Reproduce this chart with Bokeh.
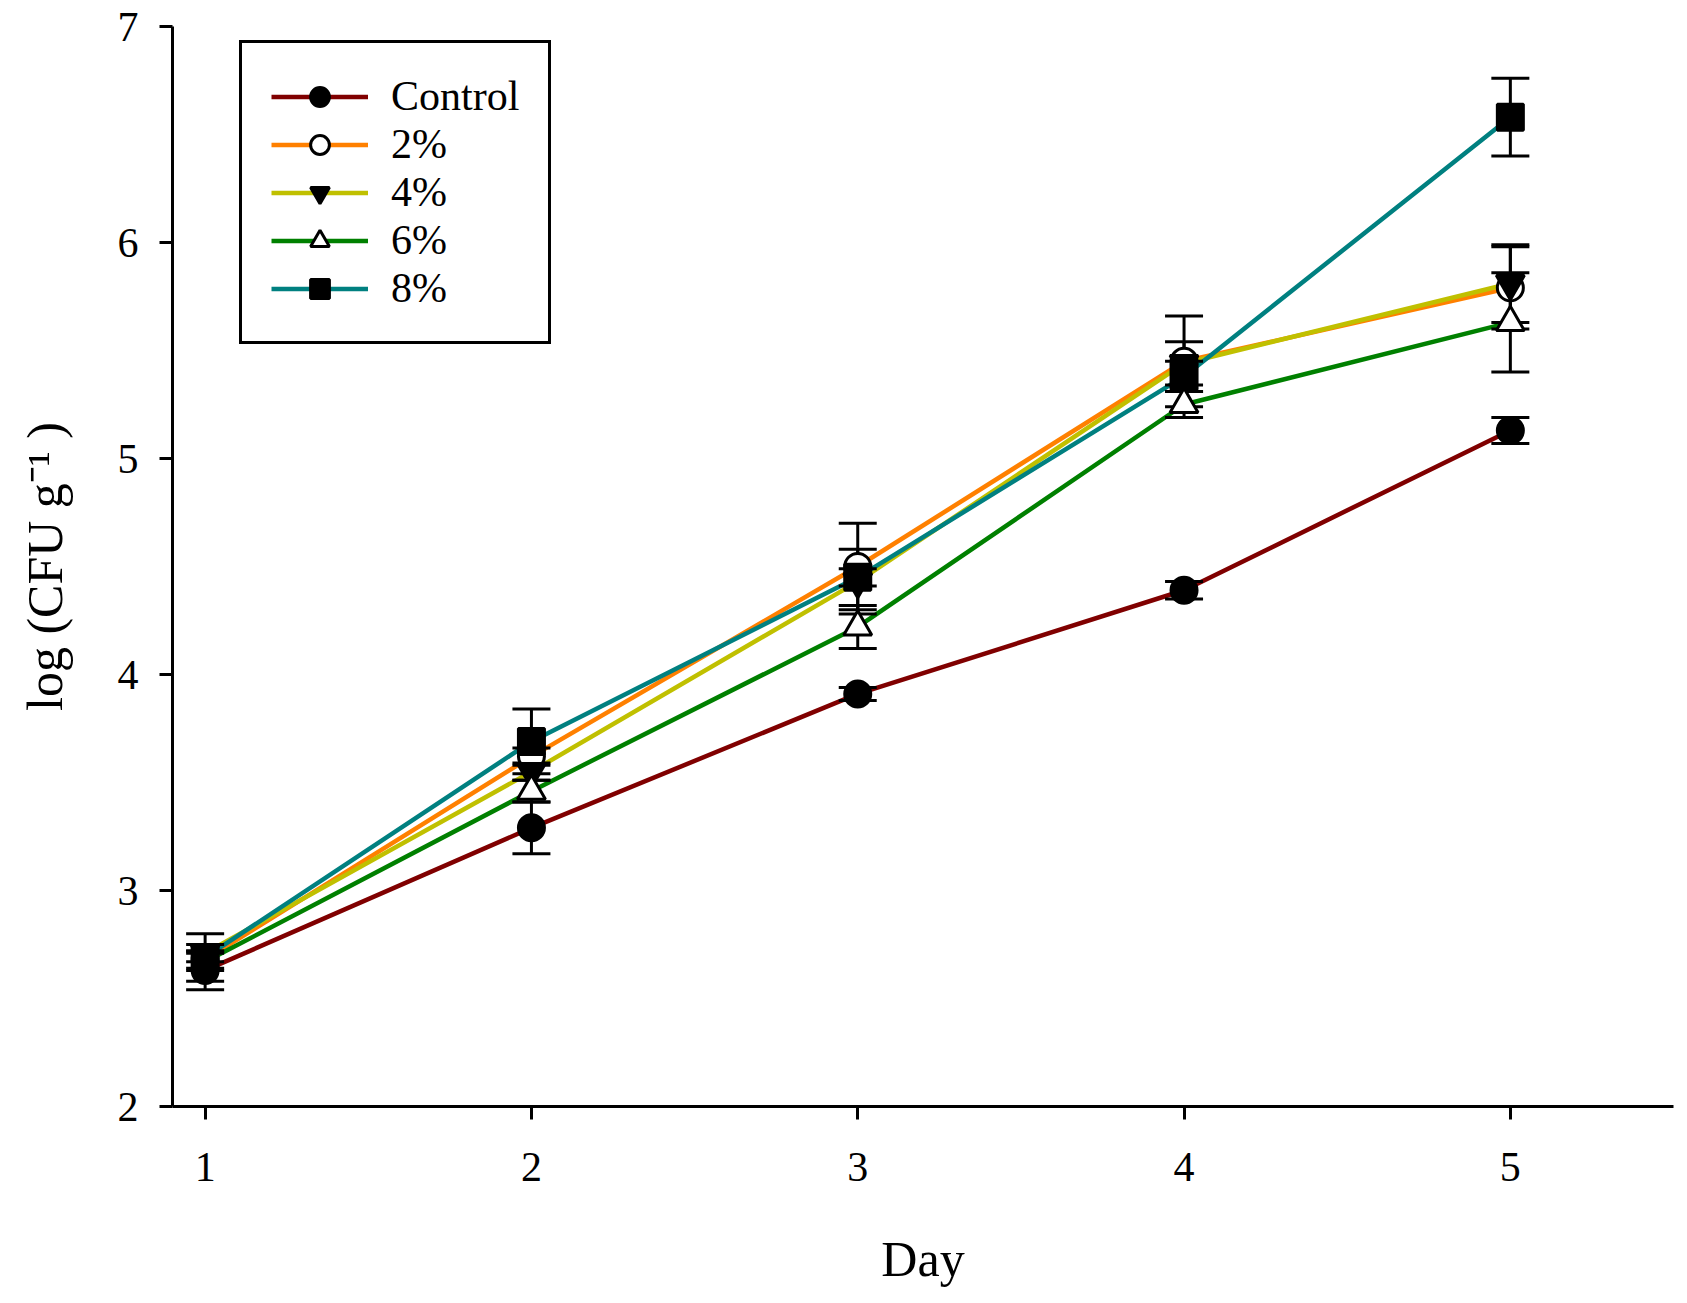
import bokeh.plotting as bp
from bokeh.models import FixedTicker, Legend, LegendItem, Range1d
from bokeh.embed import file_html
from bokeh.resources import INLINE

# values
days = [1, 2, 3, 4, 5]
labels = ["Control", "2%", "4%", "6%", "8%"]
control = [2.63, 3.29, 3.91, 4.39, 5.13]
control_err = [0.09, 0.12, 0.03, 0.04, 0.06]
pct2 = [2.68, 3.62, 4.50, 5.45, 5.79]
pct2_err = [0.04, 0.04, 0.20, 0.21, 0.19]
pct4 = [2.71, 3.55, 4.43, 5.44, 5.81]
pct4_err = [0.04, 0.04, 0.15, 0.10, 0.18]
pct6 = [2.67, 3.46, 4.22, 5.25, 5.63]
pct6_err = [0.04, 0.05, 0.10, 0.06, 0.23]
pct8 = [2.69, 3.69, 4.45, 5.38, 6.58]
pct8_err = [0.11, 0.15, 0.04, 0.07, 0.18]

series = [control, pct2, pct4, pct6, pct8]
errors = [control_err, pct2_err, pct4_err, pct6_err, pct8_err]
colors = ["#800000", "#FF8000", "#C0C000", "#008000", "#008080"]
markers = ["circle", "circle", "inverted_triangle", "triangle", "square"]
fills = ["black", "white", "black", "white", "black"]

FONT = "Liberation Serif"

p = bp.figure(frame_width=1501, frame_height=1080,
              x_range=Range1d(0.9, 5.5), y_range=Range1d(2, 7),
              output_backend="svg", toolbar_location=None,
              min_border_left=172, min_border_top=26, min_border_right=7,
              min_border_bottom=150)
p.outline_line_color = None
p.xgrid.grid_line_color = None
p.ygrid.grid_line_color = None

for ax in (p.xaxis[0], p.yaxis[0]):
    ax.axis_line_width = 3
    ax.major_tick_line_width = 3
    ax.major_tick_out = 13
    ax.major_tick_in = 0
    ax.minor_tick_line_color = None
    ax.major_label_text_font = FONT
    ax.major_label_text_font_size = "42px"
    ax.major_label_text_color = "black"
    ax.axis_label_text_font = FONT
    ax.axis_label_text_font_size = "50px"
    ax.axis_label_text_font_style = "normal"
    ax.axis_label_text_color = "black"

p.xaxis.ticker = FixedTicker(ticks=days)
p.yaxis.ticker = FixedTicker(ticks=[2, 3, 4, 5, 6, 7])
p.xaxis.major_label_standoff = 33
p.yaxis.major_label_standoff = 21
p.xaxis.axis_label = "Day"
p.xaxis.axis_label_standoff = 47
p.yaxis.axis_label = "log (CFU g\u207b\u00b9 )"
p.yaxis.axis_label_standoff = 42

# lines
line_rs = []
for vals, col in zip(series, colors):
    line_rs.append(p.line(days, vals, line_color=col, line_width=4.5))

# error bars
for vals, err in zip(series, errors):
    lo = [v - e for v, e in zip(vals, err)]
    hi = [v + e for v, e in zip(vals, err)]
    p.segment(x0=days, y0=lo, x1=days, y1=hi, line_color="black", line_width=3)
    p.scatter(days, lo, marker="dash", size=38, line_color="black", line_width=3)
    p.scatter(days, hi, marker="dash", size=38, line_color="black", line_width=3)

# markers
mark_rs = []
for vals, mk, fc in zip(series, markers, fills):
    size = 28 if "triangle" in mk else 26
    mark_rs.append(p.scatter(days, vals, marker=mk, size=size, fill_color=fc,
                             line_color="black", line_width=3))

items = [LegendItem(label=lb, renderers=[lr, mr])
         for lb, lr, mr in zip(labels, line_rs, mark_rs)]
legend = Legend(items=items, location=(67, 762),
                label_text_font=FONT, label_text_font_size="42px",
                label_text_color="black",
                label_standoff=23, glyph_width=97, glyph_height=47,
                label_height=47, spacing=0, padding=29,
                border_line_color="black", border_line_width=3,
                border_line_alpha=1,
                background_fill_color="white", background_fill_alpha=1)
p.add_layout(legend)

open("out.html", "w").write(file_html(p, INLINE))
